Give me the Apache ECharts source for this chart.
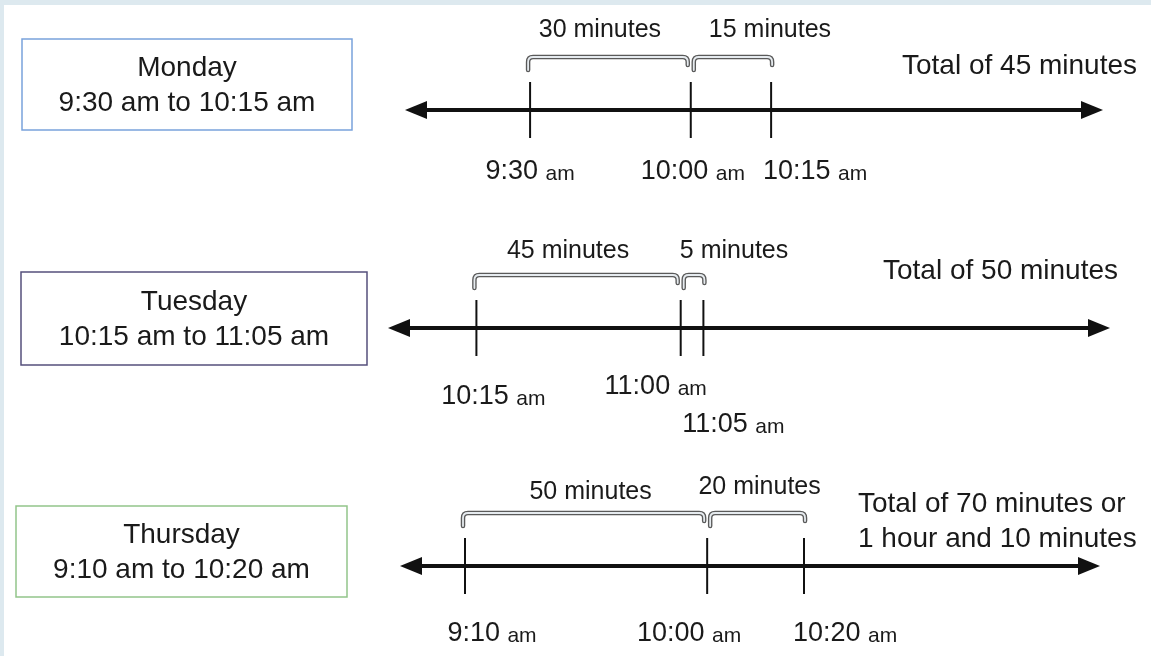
<!DOCTYPE html>
<html><head><meta charset="utf-8">
<script src="https://cdn.jsdelivr.net/npm/echarts@6/dist/echarts.min.js"></script>
<style>html,body{margin:0;padding:0;background:#fff}#c{width:1151px;height:656px}</style>
</head><body><div id="c"></div>
<script>
// ---- data ----
const days = ['Monday', 'Tuesday', 'Thursday'];
const tickTimes = [
  ['9:30', '10:00', '10:15'],
  ['10:15', '11:00', '11:05'],
  ['9:10', '10:00', '10:20']
];
const gapLabels = [
  ['30 minutes', '15 minutes'],
  ['45 minutes', '5 minutes'],
  ['50 minutes', '20 minutes']
];
const totalLabels = [
  ['Total of 45 minutes'],
  ['Total of 50 minutes'],
  ['Total of 70 minutes or', '1 hour and 10 minutes']
];
const meridiem = 'am';

// ---- layout / style ----
const FONT = '"Liberation Sans", Arial, Helvetica, sans-serif';
const rowLineY = [110, 328, 566];
const axisPx = [[416, 1092], [399, 1099], [411, 1089]];
const axisRange = [[548.70, 674.91], [597.95, 752.14], [538.85, 678.84]];
const boxRects = [[22, 39, 330, 91], [21, 272, 346, 93], [16, 506, 331, 91]];
const boxColors = ['#7aa3db', '#55507c', '#92c58a'];
const totalPos = [[902, 66], [883, 271], [858, 522]];
const tickLabelOff = [
  [[0, 60], [2, 60], [44, 60]],
  [[17, 67], [-25, 57], [30, 95]],
  [[27, 66], [-18, 66], [41, 66]]
];
const gapLabelOff = [
  [[-8, -80], [37, -80]],
  [[-8, -77], [40, -77]],
  [[7, -74], [2, -79]]
];
const bracketInset = [[-2, -3], [3, 1]];

const toMin = s => { const p = s.split(':').map(Number); return p[0] * 60 + p[1]; };

const grids = [], xAxes = [], yAxes = [], series = [], graphics = [];

graphics.push({ type: 'rect', shape: { x: 0, y: 0, width: 1151, height: 5 }, style: { fill: '#dde9ef' }, silent: true });
graphics.push({ type: 'rect', shape: { x: 0, y: 0, width: 4, height: 656 }, style: { fill: '#dde9ef' }, silent: true });

days.forEach((day, i) => {
  const times = tickTimes[i];
  grids.push({ left: axisPx[i][0], width: axisPx[i][1] - axisPx[i][0], top: rowLineY[i] - 50, height: 100 });
  xAxes.push({
    gridIndex: i, type: 'value', min: axisRange[i][0], max: axisRange[i][1],
    axisLine: { show: true, onZero: true, symbol: ['triangle', 'triangle'], symbolSize: [18, 22],
      lineStyle: { color: '#111', width: 4 } },
    axisTick: { show: false }, axisLabel: { show: false }, splitLine: { show: false }
  });
  yAxes.push({ gridIndex: i, type: 'value', min: -50, max: 50, show: false });

  // ticks + time labels
  series.push({
    type: 'custom', coordinateSystem: 'cartesian2d', xAxisIndex: i, yAxisIndex: i,
    silent: true, clip: false,
    data: times.map((t, j) => [toMin(t), 0, j]),
    renderItem: (params, api) => {
      const j = api.value(2);
      const p = api.coord([api.value(0), 0]);
      const off = tickLabelOff[i][j];
      return { type: 'group', children: [
        { type: 'line', shape: { x1: p[0], y1: p[1] - 28, x2: p[0], y2: p[1] + 28 },
          style: { stroke: '#111', lineWidth: 2 } },
        { type: 'text', x: p[0] + off[0], y: p[1] + off[1],
          style: { text: '{t|' + times[j] + '} {a|' + meridiem + '}', align: 'center', verticalAlign: 'middle',
            font: '27px ' + FONT, fill: '#1a1a1a',
            rich: { t: { fontSize: 27, fontFamily: FONT, fill: '#1a1a1a', verticalAlign: 'bottom', lineHeight: 30 },
                    a: { fontSize: 21, fontFamily: FONT, fill: '#1a1a1a', verticalAlign: 'bottom', lineHeight: 30 } } } }
      ] };
    }
  });

  // brackets + gap labels
  series.push({
    type: 'custom', coordinateSystem: 'cartesian2d', xAxisIndex: i, yAxisIndex: i,
    silent: true, clip: false,
    data: [[toMin(times[0]), toMin(times[1]), 0], [toMin(times[1]), toMin(times[2]), 1]],
    renderItem: (params, api) => {
      const j = api.value(2);
      const a = api.coord([api.value(0), 0]);
      const b = api.coord([api.value(1), 0]);
      const x1 = a[0] + bracketInset[j][0], x2 = b[0] + bracketInset[j][1];
      const y = a[1];
      const yB = y - 40, yT = y - 53, r = 5, yH = y - 45;
      const d = 'M' + x1 + ' ' + yB + ' L' + x1 + ' ' + (yT + r) + ' Q' + x1 + ' ' + yT + ' ' + (x1 + r) + ' ' + yT +
        ' L' + (x2 - r) + ' ' + yT + ' Q' + x2 + ' ' + yT + ' ' + x2 + ' ' + (yT + r) + ' L' + x2 + ' ' + yH;
      const off = gapLabelOff[i][j];
      return { type: 'group', children: [
        { type: 'path', shape: { pathData: d }, style: { fill: null, stroke: '#5a5a5a', lineWidth: 4.5, lineJoin: 'round', lineCap: 'round' } },
        { type: 'path', shape: { pathData: d }, style: { fill: null, stroke: '#e6ebef', lineWidth: 1.8, lineJoin: 'round', lineCap: 'round' } },
        { type: 'text', x: (x1 + x2) / 2 + off[0], y: y + off[1],
          style: { text: gapLabels[i][j], align: 'center', verticalAlign: 'middle', font: '25px ' + FONT, fill: '#1a1a1a' } }
      ] };
    }
  });

  // day box
  const br = boxRects[i];
  graphics.push({ type: 'rect', shape: { x: br[0], y: br[1], width: br[2], height: br[3] },
    style: { fill: '#fff', stroke: boxColors[i], lineWidth: 1.5 }, silent: true });
  graphics.push({ type: 'text', x: br[0] + br[2] / 2, y: br[1] + br[3] / 2 + 1,
    style: { text: day + '\n' + times[0] + ' ' + meridiem + ' to ' + times[2] + ' ' + meridiem,
      align: 'center', verticalAlign: 'middle', textAlign: 'center', textVerticalAlign: 'middle',
      lineHeight: 35, font: '28px ' + FONT, fill: '#1a1a1a' }, silent: true });

  // total text
  graphics.push({ type: 'text', x: totalPos[i][0], y: totalPos[i][1],
    style: { text: totalLabels[i].join('\n'), align: 'left', verticalAlign: 'middle',
      textAlign: 'left', textVerticalAlign: 'middle', lineHeight: 35, font: '28px ' + FONT, fill: '#1a1a1a' }, silent: true });
});

const chart = echarts.init(document.getElementById('c'), null, { renderer: 'canvas' });
chart.setOption({
  backgroundColor: '#ffffff',
  animation: false,
  grid: grids, xAxis: xAxes, yAxis: yAxes,
  series: series,
  graphic: graphics
});
</script></body></html>
